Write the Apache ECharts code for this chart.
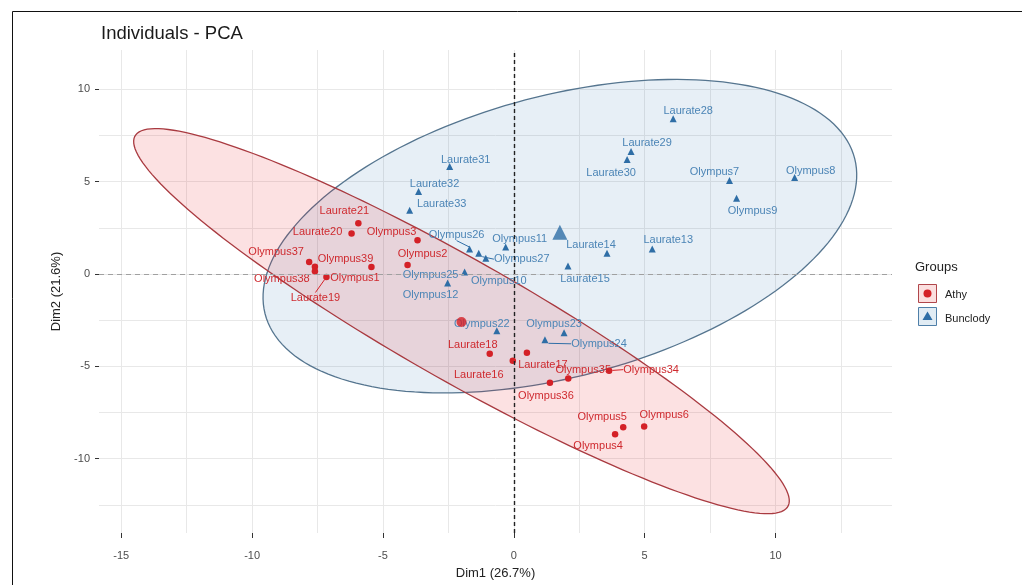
<!DOCTYPE html>
<html><head><meta charset="utf-8">
<script src="https://cdn.jsdelivr.net/npm/echarts@6/dist/echarts.min.js"></script>
<style>html,body{margin:0;padding:0;background:#fff}#c{width:1022px;height:585px}</style>
</head><body><div id="c"></div>
<script>
// ---- data ----
const athyNames = ['Laurate21','Laurate20','Olympus3','Olympus37','Olympus39','Olympus38','Olympus1','Laurate19','Olympus2','Laurate18','Laurate16','Laurate17','Olympus35','Olympus34','Olympus36','Olympus5','Olympus6','Olympus4'];
const athyX = [-5.94,-6.2,-3.68,-7.82,-5.44,-7.6,-7.6,-7.16,-4.06,-0.92,-0.04,0.5,2.08,3.64,1.38,4.18,4.98,3.87];
const athyY = [2.75,2.2,1.83,0.65,0.38,0.4,0.15,-0.16,0.49,-4.31,-4.7,-4.26,-5.66,-5.23,-5.88,-8.3,-8.25,-8.68];
const buncNames = ['Laurate28','Laurate29','Laurate30','Olympus7','Olympus8','Olympus9','Laurate14','Laurate13','Laurate15','Laurate31','Laurate32','Laurate33','Olympus26','Olympus11','Olympus27','Olympus10','Olympus25','Olympus12','Olympus22','Olympus23','Olympus24'];
const buncX = [6.09,4.48,4.33,8.24,10.73,8.51,3.56,5.29,2.07,-2.45,-3.64,-3.98,-1.69,-0.31,-1.34,-1.07,-1.88,-2.53,-0.65,1.92,1.19];
const buncY = [8.41,6.63,6.2,5.07,5.23,4.1,1.13,1.35,0.43,5.82,4.47,3.45,1.35,1.46,1.13,0.86,0.11,-0.49,-3.07,-3.18,-3.56];
const groups = ['Athy','Bunclody'];
const meanX = [-2.0, 1.76];
const meanY = [-2.6, 2.26];
// ellipse: centre x, centre y, semi-major, semi-minor, angle (deg, data space)
const ellipseAthy = [-2.0, -2.55, 16.03, 2.93, 140.6];
const ellipseBunc = [1.76, 2.05, 12.14, 7.30, 26.5];
const xTickLabels = [-15,-10,-5,0,5,10];
const yTickLabels = [-10,-5,0,5,10];
const xGrid = [-15,-12.5,-10,-7.5,-5,-2.5,0,2.5,5,7.5,10,12.5];
const yGrid = [-12.5,-10,-7.5,-5,-2.5,0,2.5,5,7.5,10];

// ---- label placement (pixel offsets from each point) ----
const athyLabelOff = [[-14,-12],[-34,-1],[-26,-8],[-33,-10],[-26,-8],[-33,12],[40,7],[-11,21],[15,-11],[-17,-9],[-34,14],[16,12],[15,-9],[42,-1],[-4,13],[-21,-10],[20,-11],[-17,12]];
const athyLine = ['Laurate19','Olympus34'];
const buncLabelOff = [[15,-8],[16,-9],[-16,13],[-15,-8],[16,-6],[16,13],[-16,-8],[16,-9],[17,13],[16,-7],[16,-8],[32,-6],[-13,-14],[14,-8],[43,6],[13,23],[-34,3],[-17,12],[-15,-7],[-10,-9],[54,4]];
const buncLine = ['Olympus26','Olympus27','Olympus24'];

const RED = '#D42127', BLUE = '#2F6EA6', BLUE_TXT = '#4C85B6', RED_TXT = '#CF2A2F';
const FONT = "'Liberation Sans', Arial, sans-serif";

function pts(names, xs, ys, lines) {
  return names.map((n, i) => ({ name: n, value: [xs[i], ys[i]], labelLine: { show: lines.indexOf(n) >= 0 } }));
}
function ellipseSeries(name, params, fill, stroke) {
  return {
    type: 'custom', name: name + ' ellipse', silent: true, z: 1,
    data: [params], encode: { x: 0, y: 1 },
    renderItem: function (p, api) {
      const cx = api.value(0), cy = api.value(1), a = api.value(2), b = api.value(3), ang = api.value(4) * Math.PI / 180;
      const poly = [];
      for (let k = 0; k < 180; k++) {
        const t = 2 * Math.PI * k / 180;
        const ex = a * Math.cos(t), ey = b * Math.sin(t);
        poly.push(api.coord([cx + ex * Math.cos(ang) - ey * Math.sin(ang), cy + ex * Math.sin(ang) + ey * Math.cos(ang)]));
      }
      return { type: 'polygon', shape: { points: poly }, style: { fill: fill, stroke: stroke, lineWidth: 1.3 } };
    }
  };
}

const chart = echarts.init(document.getElementById('c'));
const xMin = -15.85, xMax = 14.45, yMin = -14.02, yMax = 12.13;
const axisCommon = { type: 'value', axisLine: { show: false, onZero: false } };
chart.setOption({
  animation: false,
  textStyle: { fontFamily: FONT },
  title: { text: 'Individuals - PCA', left: 96, top: 19, textStyle: { fontSize: 18.5, fontWeight: 'normal', color: '#1a1a1a', fontFamily: FONT } },
  grid: { left: 99, right: 130, top: 50, bottom: 50 },
  xAxis: [
    Object.assign({}, axisCommon, { min: xMin, max: xMax, position: 'bottom',
      axisTick: { show: false, customValues: xGrid },
      axisLabel: { customValues: xTickLabels, color: '#4D4D4D', fontSize: 11, margin: 17, fontFamily: FONT },
      splitLine: { show: true, lineStyle: { color: '#E8E8E8', width: 1 } },
      name: 'Dim1 (26.7%)', nameLocation: 'middle', nameGap: 34, nameTextStyle: { fontSize: 13, color: '#222', fontFamily: FONT } }),
    Object.assign({}, axisCommon, { min: xMin, max: xMax, position: 'bottom',
      axisTick: { show: true, customValues: xTickLabels, length: 5, lineStyle: { color: '#333' } },
      axisLabel: { show: false }, splitLine: { show: false } })
  ],
  yAxis: [
    Object.assign({}, axisCommon, { min: yMin, max: yMax, position: 'left',
      axisTick: { show: false, customValues: yGrid },
      axisLabel: { customValues: yTickLabels, color: '#4D4D4D', fontSize: 11, margin: 9, fontFamily: FONT },
      splitLine: { show: true, lineStyle: { color: '#E8E8E8', width: 1 } },
      name: 'Dim2 (21.6%)', nameLocation: 'middle', nameGap: 27, nameRotate: 90, nameTextStyle: { fontSize: 13, color: '#222', fontFamily: FONT } }),
    Object.assign({}, axisCommon, { min: yMin, max: yMax, position: 'left',
      axisTick: { show: true, customValues: yTickLabels, length: 4, lineStyle: { color: '#333' } },
      axisLabel: { show: false }, splitLine: { show: false } })
  ],
  graphic: [
    { type: 'rect', shape: { x: 12.5, y: 11.5, width: 1030, height: 600 }, style: { fill: 'none', stroke: '#111', lineWidth: 1 }, silent: true },
    { type: 'text', left: 915, top: 261, style: { text: 'Groups', fontSize: 13, fill: '#222', fontFamily: FONT } },
    { type: 'rect', shape: { x: 918.5, y: 284.5, width: 18, height: 18 }, style: { fill: 'rgba(228,26,28,0.14)', stroke: '#B0464B', lineWidth: 1 } },
    { type: 'circle', shape: { cx: 927.5, cy: 293.5, r: 4 }, style: { fill: RED } },
    { type: 'text', x: 945, y: 295, style: { text: groups[0], fontSize: 11, fill: '#222', fontFamily: FONT, verticalAlign: 'middle' } },
    { type: 'rect', shape: { x: 918.5, y: 307.5, width: 18, height: 18 }, style: { fill: 'rgba(55,126,184,0.15)', stroke: '#4F7FA8', lineWidth: 1 } },
    { type: 'polygon', shape: { points: [[927.5, 311.5], [932.5, 320], [922.5, 320]] }, style: { fill: BLUE } },
    { type: 'text', x: 945, y: 319, style: { text: groups[1], fontSize: 11, fill: '#222', fontFamily: FONT, verticalAlign: 'middle' } }
  ],
  series: [
    ellipseSeries('Bunclody', ellipseBunc, 'rgba(55,126,184,0.12)', '#55758F'),
    ellipseSeries('Athy', ellipseAthy, 'rgba(228,26,28,0.13)', '#A93A40'),
    {
      type: 'line', name: 'zero', data: [], silent: true, z: 2,
      markLine: { symbol: 'none', silent: true, label: { show: false },
        data: [
          { xAxis: 0, lineStyle: { color: '#222', type: [4, 3], width: 1.4 } },
          { yAxis: 0, lineStyle: { color: '#A0A0A0', type: [5, 4], width: 1 } }
        ] }
    },
    {
      type: 'scatter', name: 'Athy', z: 3, symbol: 'circle', symbolSize: 6.5,
      itemStyle: { color: RED, opacity: 1 },
      data: pts(athyNames, athyX, athyY, athyLine),
      label: { show: true, position: 'inside', formatter: '{b}', color: RED_TXT, fontSize: 11, fontFamily: FONT },
      labelLine: { show: false, lineStyle: { color: RED, width: 1 } },
      labelLayout: function (p) { const o = athyLabelOff[p.dataIndex]; return { dx: o[0], dy: o[1] }; }
    },
    {
      type: 'scatter', name: 'Bunclody', z: 3, symbol: 'triangle', symbolSize: 7,
      itemStyle: { color: BLUE, opacity: 1 },
      data: pts(buncNames, buncX, buncY, buncLine),
      label: { show: true, position: 'inside', formatter: '{b}', color: BLUE_TXT, fontSize: 11, fontFamily: FONT },
      labelLine: { show: false, lineStyle: { color: BLUE, width: 1 } },
      labelLayout: function (p) { const o = buncLabelOff[p.dataIndex]; return { dx: o[0], dy: o[1] }; }
    },
    {
      type: 'scatter', name: 'Athy mean', z: 4, symbol: 'circle', symbolSize: 10,
      itemStyle: { color: RED }, data: [[meanX[0], meanY[0]]], silent: true
    },
    {
      type: 'scatter', name: 'Bunclody mean', z: 4, symbol: 'triangle', symbolSize: 15,
      itemStyle: { color: BLUE }, data: [[meanX[1], meanY[1]]], silent: true
    }
  ]
});
</script>
</body></html>
